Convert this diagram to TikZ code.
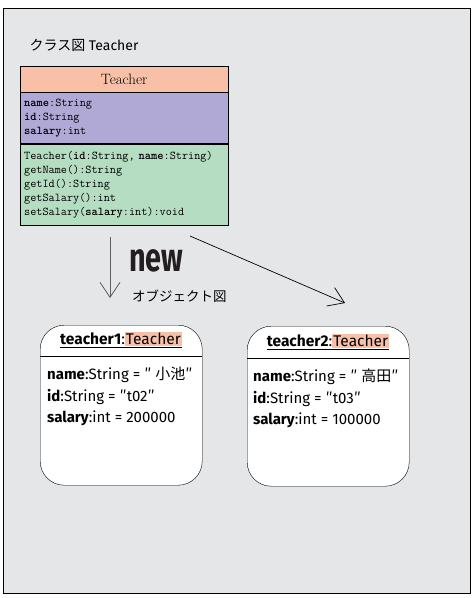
\documentclass[tikz,border=0pt]{standalone}
\usepackage{fontspec}
\usepackage{graphicx}
\setsansfont{Fira Sans}
\newfontfamily\jpfont{Noto Sans CJK JP}
\usetikzlibrary{arrows.meta}
\definecolor{pagegray}{RGB}{229,230,232}
\definecolor{salmon}{RGB}{249,192,168}
\definecolor{lavender}{RGB}{176,169,214}
\definecolor{mint}{RGB}{180,221,194}
\definecolor{arrowgray}{RGB}{95,95,95}
\definecolor{inkgray}{RGB}{35,31,32}

\newcommand{\hlname}[1]{{\setlength{\fboxsep}{1pt}\colorbox{salmon}{#1}}}
\newcommand{\jq}{{\jpfont ″}}

\tikzset{
  clsrow/.style={draw, anchor=north west, inner sep=4pt, text width=200pt, align=left, font=\fontsize{11.9}{14}\selectfont\ttfamily},
  objbox/.style={draw, fill=white, rounded corners=24pt, anchor=north west, minimum width=162pt, minimum height=160pt},
  objhead/.style={font=\fontsize{15.5}{15.5}\selectfont\sffamily},
  objattr/.style={anchor=north west, align=left, inner sep=0pt, font=\fontsize{15}{21.5}\selectfont\sffamily},
}

\begin{document}
\begin{tikzpicture}[x=1pt, y=-1pt, >={Straight Barb[length=15pt,width=20pt]}]
\useasboundingbox (0,0) rectangle (474,598);
\draw[fill=pagegray, line width=1pt] (3,8) rectangle (470,593);

\node[anchor=west, font=\fontsize{14}{14}\selectfont\sffamily] (title) at (26,45) {{\jpfont クラス図}\ Teacher};

% class
\node[clsrow, fill=salmon, minimum height=26pt, align=center, font=\fontsize{15}{15}\selectfont] (cls-name) at (20,66) {Teacher};
\node[clsrow, fill=lavender, minimum height=51pt] (cls-attr) at (cls-name.south west)
  {\textbf{name}:String\\ \textbf{id}:String\\ \textbf{salary}:int};
\node[clsrow, fill=mint, minimum height=81pt] (cls-ops) at (cls-attr.south west)
  {Teacher(\textbf{id}:String, \textbf{name}:String)\\ getName():String\\ getId():String\\ getSalary():int\\ setSalary(\textbf{salary}:int):void};

% new
\coordinate (down-from) at (110,237);
\coordinate (down-to) at (110,298);
\coordinate (side-from) at (190,236);
\coordinate (side-to) at (345,303);
\draw[->, arrowgray, line width=0.8pt] (down-from) -- (down-to);
\draw[->, line width=0.7pt] (side-from) -- (side-to);
\node[anchor=west, inkgray, inner sep=0pt] (new-label) at (129,261) {\scalebox{0.72}[1]{\fontsize{40}{40}\selectfont\sffamily\bfseries new}};
\node[anchor=west, inner sep=0pt, font=\fontsize{13.5}{13.5}\selectfont\jpfont] (obj-title) at (132,296) {オブジェクト図};

% objects
\node[objbox] (obj1) at (40,325) {};
\node[objhead] (obj1-head) at (121,340) {\underline{\textbf{teacher1}:\hlname{Teacher}}};
\draw (obj1.west |- 0,356) -- (obj1.east |- 0,356);
\node[objattr] (obj1-attr) at (47,367)
  {\textbf{name}:String = \jq\ {\jpfont 小池}\jq\\ \textbf{id}:String = \jq t02\jq\\ \textbf{salary}:int = 200000};

\node[objbox] (obj2) at (247,326) {};
\node[objhead] (obj2-head) at (328,342) {\underline{\textbf{teacher2}:\hlname{Teacher}}};
\draw (obj2.west |- 0,358) -- (obj2.east |- 0,358);
\node[objattr] (obj2-attr) at (253,369)
  {\textbf{name}:String = \jq\ {\jpfont 高田}\jq\\ \textbf{id}:String = \jq t03\jq\\ \textbf{salary}:int = 100000};
\end{tikzpicture}
\end{document}
